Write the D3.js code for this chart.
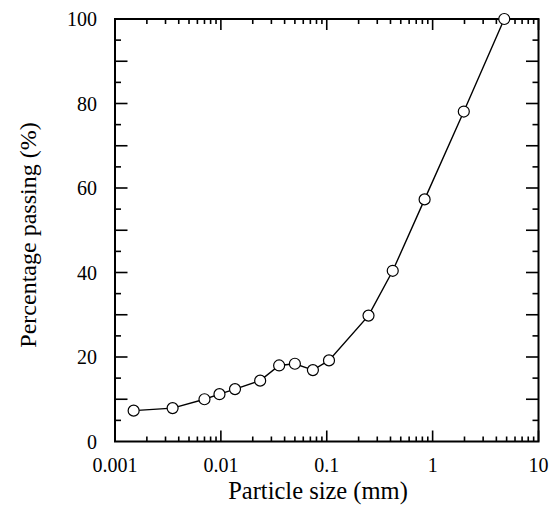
<!DOCTYPE html>
<html>
<head>
<meta charset="utf-8">
<script src="https://cdn.jsdelivr.net/npm/d3@7"></script>
<style>
  body { margin: 0; background: #fff; }
</style>
</head>
<body>
<div id="vis"></div>
<script>
// particle size (mm) and percentage passing
const sizes = [0.0015, 0.0035, 0.007, 0.0097, 0.0136, 0.0235, 0.0355, 0.05, 0.074, 0.105, 0.248, 0.42, 0.84, 1.97, 4.75];
const passing = [7.3, 7.9, 10.0, 11.2, 12.4, 14.4, 18.0, 18.4, 16.9, 19.2, 29.8, 40.4, 57.3, 78.1, 100];
const xTicks = [0.001, 0.01, 0.1, 1, 10];
const xTickLabels = ['0.001', '0.01', '0.1', '1', '10'];
const yTicks = [0, 20, 40, 60, 80, 100];

const serif = '"Liberation Serif", "Times New Roman", Times, serif';

// set margins
let margin = { top: 19, left: 115, right: 12.5, bottom: 77.5 },
    W = 551, H = 519,
    width = W - margin.left - margin.right,
    height = H - margin.top - margin.bottom;

let svg = d3.select('#vis')
  .append('svg')
  .attr('width', W)
  .attr('height', H)
  .attr('font-family', serif);

const g = svg.append('g')
  .attr('transform', `translate(${margin.left},${margin.top})`);

const x = d3.scaleLog().domain([0.001, 10]).range([0, width]);
const y = d3.scaleLinear().domain([0, 100]).range([height, 0]);

// minor log ticks 2..9 in each decade
const minorX = [];
xTicks.slice(0, -1).forEach(d => {
  for (let k = 2; k <= 9; k++) minorX.push(d * k);
});
const minorY = d3.range(5, 100, 10);
const majorY = d3.range(10, 100, 10);

// ticks pointing inward on all four sides
const tk = g.append('g').attr('stroke', '#000').attr('stroke-width', 1.6);
minorX.forEach(v => {
  tk.append('line').attr('x1', x(v)).attr('x2', x(v)).attr('y1', height).attr('y2', height - 5);
  tk.append('line').attr('x1', x(v)).attr('x2', x(v)).attr('y1', 0).attr('y2', 5);
});
xTicks.forEach(v => {
  tk.append('line').attr('x1', x(v)).attr('x2', x(v)).attr('y1', height).attr('y2', height - 11);
  tk.append('line').attr('x1', x(v)).attr('x2', x(v)).attr('y1', 0).attr('y2', 11);
});
minorY.forEach(v => {
  tk.append('line').attr('x1', 0).attr('x2', 6).attr('y1', y(v)).attr('y2', y(v));
  tk.append('line').attr('x1', width).attr('x2', width - 6).attr('y1', y(v)).attr('y2', y(v));
});
majorY.forEach(v => {
  tk.append('line').attr('x1', 0).attr('x2', 12.5).attr('y1', y(v)).attr('y2', y(v));
  tk.append('line').attr('x1', width).attr('x2', width - 12.5).attr('y1', y(v)).attr('y2', y(v));
});

// frame
g.append('rect')
  .attr('width', width).attr('height', height)
  .attr('fill', 'none').attr('stroke', '#000').attr('stroke-width', 2);

// tick labels
g.selectAll('.xl').data(xTicks).join('text')
  .attr('class', 'xl')
  .attr('x', d => x(d)).attr('y', height + 30)
  .attr('text-anchor', 'middle')
  .attr('font-family', serif)
  .attr('font-size', 20)
  .text((d, i) => xTickLabels[i]);

g.selectAll('.yl').data(yTicks).join('text')
  .attr('class', 'yl')
  .attr('x', -18).attr('y', d => y(d))
  .attr('dy', '0.35em')
  .attr('text-anchor', 'end')
  .attr('font-family', serif)
  .attr('font-size', 20)
  .text(d => d);

// axis titles
svg.append('text')
  .attr('x', 318).attr('y', 499)
  .attr('text-anchor', 'middle')
  .attr('font-family', serif)
  .attr('font-size', 24.5)
  .text('Particle size (mm)');

svg.append('text')
  .attr('transform', `translate(36,235) rotate(-90)`)
  .attr('text-anchor', 'middle')
  .attr('font-family', serif)
  .attr('font-size', 24)
  .text('Percentage passing (%)');

// data
const pts = sizes.map((s, i) => [s, passing[i]]);
g.append('path')
  .datum(pts)
  .attr('fill', 'none').attr('stroke', '#000').attr('stroke-width', 1.4)
  .attr('d', d3.line().x(d => x(d[0])).y(d => y(d[1])));

g.selectAll('circle').data(pts).join('circle')
  .attr('cx', d => x(d[0])).attr('cy', d => y(d[1]))
  .attr('r', 5.5)
  .attr('fill', '#fff').attr('stroke', '#000').attr('stroke-width', 1.2);
</script>
</body>
</html>
